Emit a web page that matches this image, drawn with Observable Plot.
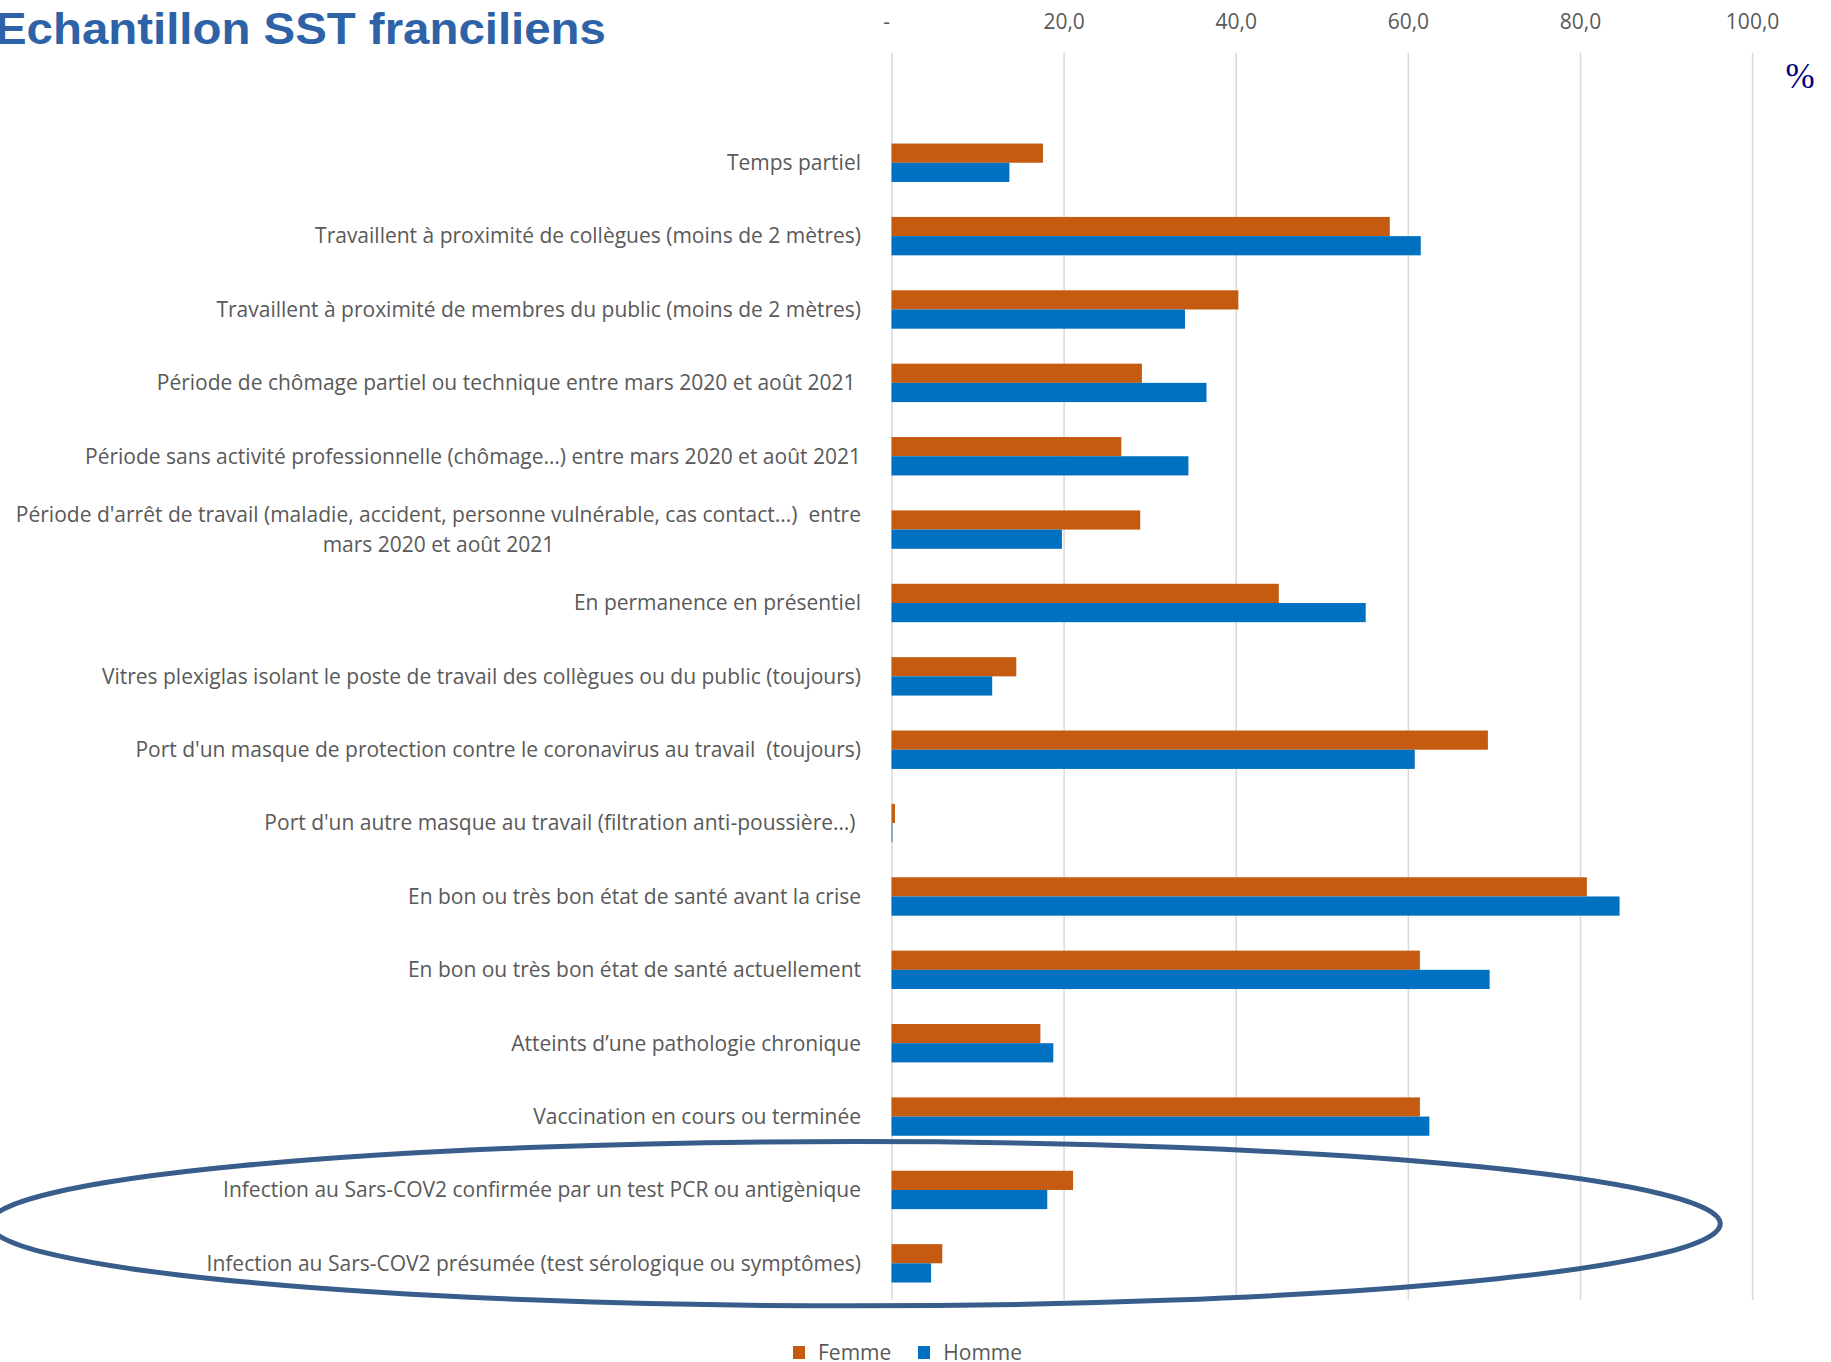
<!DOCTYPE html>
<html lang="fr">
<head>
<meta charset="utf-8">
<script src="https://cdn.jsdelivr.net/npm/d3@7"></script>
<script src="https://cdn.jsdelivr.net/npm/@observablehq/plot@0.6"></script>
<style>
  html, body { margin: 0; padding: 0; background: #fff; }
  #wrap { position: relative; width: 1831px; height: 1362px; overflow: hidden; background: #fff; }
  #chart { position: absolute; left: 0; top: 0; }
  #chart svg text { white-space: pre; }
  #title { position: absolute; left: -5.4px; top: 6.8px; font-family: "Liberation Sans", Arial, sans-serif; font-weight: bold; font-size: 44px; line-height: 44px; color: #2D63A6; white-space: nowrap; transform: scaleX(1.077); transform-origin: 0 0; }
  #unit { position: absolute; left: 1785.5px; top: 57px; font-family: "Liberation Serif", "Times New Roman", serif; font-size: 35px; line-height: 40px; color: #000080; }
  #legend { position: absolute; left: 793px; top: 1342px; display: flex; align-items: center; font-family: "Open Sans", sans-serif; font-size: 21px; line-height: 20px; color: #595959; }
  #legend .sw { display: inline-block; width: 12px; height: 13px; margin-right: 13px; }
  #legend .item { display: flex; align-items: center; margin-right: 27px; }
</style>
</head>
<body>
<div id="wrap">
  <div id="chart"></div>
  <div id="title">Echantillon SST franciliens</div>
  <div id="unit">%</div>
  <div id="legend"></div>
</div>
<script>
// ---- Data ----
const categories = [
  "Temps partiel",
  "Travaillent à proximité de collègues (moins de 2 mètres)",
  "Travaillent à proximité de membres du public (moins de 2 mètres)",
  "Période de chômage partiel ou technique entre mars 2020 et août 2021 ",
  "Période sans activité professionnelle (chômage…) entre mars 2020 et août 2021",
  "Période d'arrêt de travail (maladie, accident, personne vulnérable, cas contact...)  entre\nmars 2020 et août 2021",
  "En permanence en présentiel",
  "Vitres plexiglas isolant le poste de travail des collègues ou du public (toujours)",
  "Port d'un masque de protection contre le coronavirus au travail  (toujours)",
  "Port d'un autre masque au travail (filtration anti-poussière…) ",
  "En bon ou très bon état de santé avant la crise",
  "En bon ou très bon état de santé actuellement",
  "Atteints d’une pathologie chronique",
  "Vaccination en cours ou terminée",
  "Infection au Sars-COV2 confirmée par un test PCR ou antigènique",
  "Infection au Sars-COV2 présumée (test sérologique ou symptômes)"
];
const femme = [17.6, 57.9, 40.3, 29.1, 26.7, 28.9, 45.0, 14.5, 69.3, 0.4, 80.8, 61.4, 17.3, 61.4, 21.1, 5.9];
const homme = [13.7, 61.5, 34.1, 36.6, 34.5, 19.8, 55.1, 11.7, 60.8, 0.1, 84.6, 69.5, 18.8, 62.5, 18.1, 4.6];
const series = ["Femme", "Homme"];
const colors = ["#C55A11", "#0070C0"];
const xTicks = [0, 20, 40, 60, 80, 100];
// highlighted group (ellipse annotation), in data units
const highlight = {x1: -104.8, x2: 96.3, from: categories[14], to: categories[15]};

// ---- Build table ----
const rows = [];
categories.forEach((c, i) => {
  rows.push({cat: c, sexe: "Femme", value: femme[i]});
  rows.push({cat: c, sexe: "Homme", value: homme[i]});
});

const W = 1831, H = 1320;
const mTop = 52.7, mBottom = 20, mLeft = 891.5, mRight = 78.9;
const yDomain = ["", ...categories];
const step = (H - mTop - mBottom) / yDomain.length;
const barH = 19.2;
const half = step / 2;

function ellipseMark(index, scales) {
  const {x, y} = scales;
  const boundary = y(highlight.to) - 0.04 * step;
  const x1 = x(highlight.x1), x2 = x(highlight.x2);
  const e = document.createElementNS("http://www.w3.org/2000/svg", "ellipse");
  e.setAttribute("cx", (x1 + x2) / 2);
  e.setAttribute("cy", boundary);
  e.setAttribute("rx", (x2 - x1) / 2);
  e.setAttribute("ry", 1.12 * step);
  e.setAttribute("fill", "none");
  e.setAttribute("stroke", "#385D8A");
  e.setAttribute("stroke-width", 5);
  return e;
}

const chart = Plot.plot({
  width: W,
  height: H,
  marginTop: mTop,
  marginBottom: mBottom,
  marginLeft: mLeft,
  marginRight: mRight,
  style: {fontFamily: "'Open Sans', sans-serif", fontSize: "21px", color: "#595959", background: "transparent"},
  x: {domain: [0, 100]},
  y: {domain: yDomain, padding: 0, round: false},
  marks: [
    Plot.gridX(xTicks, {stroke: "#D9D9D9", strokeOpacity: 1, strokeWidth: 1.5}),
    Plot.barX(rows.filter(d => d.sexe === "Femme"), {
      x: "value", y: "cat", fill: colors[0],
      insetTop: half - barH, insetBottom: half
    }),
    Plot.barX(rows.filter(d => d.sexe === "Homme"), {
      x: "value", y: "cat", fill: colors[1],
      insetTop: half, insetBottom: half - barH
    }),
    Plot.axisX({
      anchor: "top", ticks: xTicks, tickSize: 0, tickPadding: 24,
      tickFormat: d => d === 0 ? "-  " : d.toFixed(1).replace(".", ","),
      fontSize: 21, label: null
    }),
    Plot.axisY({
      anchor: "left", tickSize: 0, tickPadding: 31, fontSize: 21, dy: -2.5,
      lineHeight: 1.39, label: null, tickFormat: d => d
    }),
    ellipseMark
  ]
});

document.getElementById("chart").appendChild(chart);

// centre-align the wrapped multi-line category label (as in the original)
chart.querySelectorAll("text").forEach(t => {
  t.setAttributeNS("http://www.w3.org/XML/1998/namespace", "xml:space", "preserve");
  const spans = t.querySelectorAll("tspan");
  if (spans.length > 1) {
    let maxW = 0;
    spans.forEach(s => { maxW = Math.max(maxW, s.getComputedTextLength()); });
    t.setAttribute("text-anchor", "middle");
    spans.forEach(s => s.setAttribute("x", -maxW / 2));
  }
});

// legend
const legend = document.getElementById("legend");
series.forEach((s, i) => {
  const item = document.createElement("span");
  item.className = "item";
  const sw = document.createElement("span");
  sw.className = "sw";
  sw.style.background = colors[i];
  item.appendChild(sw);
  item.appendChild(document.createTextNode(s));
  legend.appendChild(item);
});
</script>
</body>
</html>
